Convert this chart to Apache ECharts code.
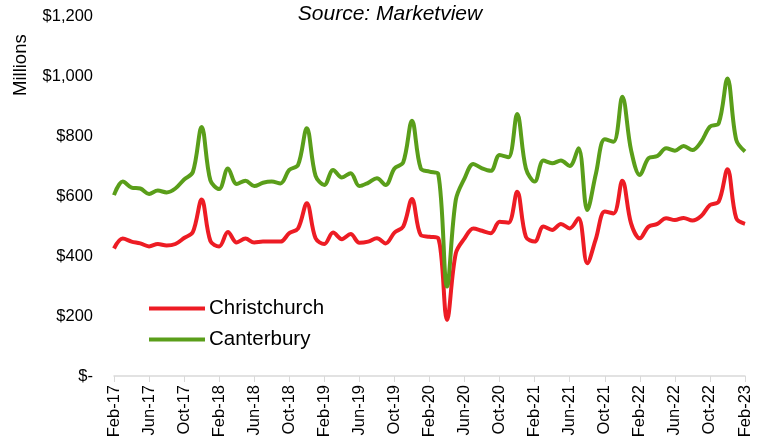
<!DOCTYPE html>
<html>
<head>
<meta charset="utf-8">
<style>
  html, body { margin: 0; padding: 0; background: #fff; }
  #chart { width: 763px; height: 446px; }
</style>
<script src="https://cdn.jsdelivr.net/npm/echarts@6/dist/echarts.min.js"></script>
</head>
<body>
<div id="chart"></div>
<script>
  // month labels Feb-17 .. Feb-23
  var monthNames = ['Jan', 'Feb', 'Mar', 'Apr', 'May', 'Jun', 'Jul', 'Aug', 'Sep', 'Oct', 'Nov', 'Dec'];
  var months = [];
  for (var k = 1; k <= 73; k++) {
    var m = k % 12;
    var yr = 17 + Math.floor(k / 12);
    months.push(monthNames[m] + '-' + yr);
  }

  // Christchurch, $ millions
  var christchurch = [
    425, 458, 448, 442, 432, 440, 435, 440, 460, 480, 588, 450,
    432, 480, 445, 458, 445, 448, 448, 448, 476, 492, 576, 459,
    440, 478, 456, 473, 444, 448, 459, 442, 478, 498, 590, 470,
    464, 459, 187, 409, 459, 492, 484, 476, 514, 511, 614, 464,
    448, 498, 487, 507, 492, 526, 376, 459, 548, 542, 651, 509,
    459, 498, 507, 526, 520, 527, 518, 533, 570, 581, 689, 526,
    507
  ];

  // Canterbury, $ millions
  var canterbury = [
    603, 648, 628, 625, 607, 618, 612, 625, 655, 680, 830, 652,
    623, 692, 640, 651, 633, 644, 648, 642, 687, 703, 826, 667,
    637, 687, 662, 676, 633, 644, 659, 637, 692, 712, 851, 692,
    681, 673, 298, 587, 659, 707, 692, 684, 737, 729, 873, 692,
    648, 718, 709, 718, 700, 759, 553, 676, 789, 781, 931, 753,
    670, 726, 733, 759, 751, 767, 753, 781, 831, 842, 992, 787,
    748
  ];

  var myChart = echarts.init(document.getElementById('chart'));
  myChart.setOption({
    animation: false,
    textStyle: { fontFamily: 'Liberation Sans, Arial, sans-serif' },
    grid: { left: 114, right: 18, top: 16, bottom: 70 },
    graphic: [
      {
        type: 'text',
        x: 390,
        y: 4,
        style: {
          text: 'Source: Marketview',
          font: 'italic 21px "Liberation Sans", Arial, sans-serif',
          fill: '#000',
          align: 'center'
        }
      },
      {
        type: 'text',
        x: 11,
        y: 96,
        rotation: Math.PI / 2,
        style: {
          text: 'Millions',
          font: '18.5px "Liberation Sans", Arial, sans-serif',
          fill: '#000'
        }
      }
    ],
    legend: {
      orient: 'vertical',
      left: 144,
      top: 293,
      itemWidth: 56,
      itemHeight: 4,
      itemGap: 10,
      icon: 'rect',
      textStyle: { fontSize: 20.5, color: '#000', padding: [0, 0, 0, -1] },
      data: ['Christchurch', 'Canterbury']
    },
    xAxis: {
      type: 'category',
      data: months,
      boundaryGap: false,
      axisLine: { lineStyle: { color: '#d9d9d9', width: 1.5 } },
      axisTick: { interval: 3, length: 6, lineStyle: { color: '#d9d9d9' } },
      axisLabel: {
        interval: 3,
        rotate: 90,
        fontSize: 16.5,
        color: '#000',
        margin: 9
      },
      splitLine: { show: false }
    },
    yAxis: {
      type: 'value',
      min: 0,
      max: 1200,
      interval: 200,
      axisLine: { show: false },
      axisTick: { show: false },
      splitLine: { show: false },
      axisLabel: {
        fontSize: 16.5,
        color: '#000',
        margin: 21,
        formatter: function (v) {
          if (v === 0) return '$-';
          return '$' + v.toLocaleString('en-US');
        }
      }
    },
    series: [
      {
        name: 'Christchurch',
        type: 'line',
        data: christchurch,
        smooth: 0.35,
        symbol: 'none',
        lineStyle: { color: '#ED1C24', width: 4 },
        itemStyle: { color: '#ED1C24' },
        z: 2
      },
      {
        name: 'Canterbury',
        type: 'line',
        data: canterbury,
        smooth: 0.35,
        symbol: 'none',
        lineStyle: { color: '#5A9E1A', width: 4 },
        itemStyle: { color: '#5A9E1A' },
        z: 3
      }
    ]
  });
</script>
</body>
</html>
